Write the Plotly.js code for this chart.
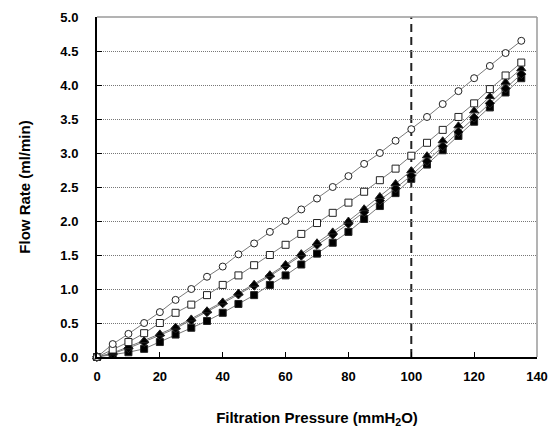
<!DOCTYPE html>
<html>
<head>
<meta charset="utf-8">
<script src="https://cdn.plot.ly/plotly-3.0.1.min.js"></script>
<style>html,body{margin:0;padding:0;background:#fff;}#chart{width:555px;height:432px;}</style>
</head>
<body>
<div id="chart"></div>
<script>
var pressure = [0,5,10,15,20,25,30,35,40,45,50,55,60,65,70,75,80,85,90,95,100,105,110,115,120,125,130,135];
var openCircle = [0,0.19,0.34,0.5,0.66,0.84,1.0,1.18,1.33,1.51,1.67,1.84,2.0,2.17,2.33,2.5,2.66,2.84,3.0,3.18,3.35,3.53,3.72,3.91,4.1,4.28,4.47,4.65];
var openSquare = [0,0.11,0.22,0.35,0.5,0.65,0.77,0.91,1.06,1.2,1.35,1.5,1.65,1.81,1.97,2.12,2.27,2.43,2.6,2.77,2.96,3.15,3.34,3.53,3.73,3.94,4.14,4.33];
var filledTriangle = [0,0.06,0.15,0.24,0.34,0.44,0.56,0.68,0.81,0.94,1.07,1.21,1.36,1.52,1.68,1.84,2.0,2.18,2.36,2.55,2.74,2.96,3.18,3.4,3.62,3.83,4.04,4.24];
var filledDiamond = [0,0.05,0.13,0.22,0.32,0.42,0.54,0.66,0.79,0.92,1.05,1.19,1.34,1.49,1.65,1.8,1.96,2.13,2.3,2.48,2.67,2.88,3.1,3.31,3.52,3.73,3.95,4.16];
var filledSquare = [0,0.03,0.07,0.12,0.22,0.33,0.43,0.53,0.65,0.78,0.91,1.06,1.2,1.36,1.52,1.68,1.84,2.03,2.22,2.41,2.62,2.83,3.04,3.25,3.46,3.67,3.89,4.1];
var xTicks = [0,20,40,60,80,100,120,140];
var yTicks = [0,0.5,1,1.5,2,2.5,3,3.5,4,4.5,5];
var refPressure = 100;

var lineStyle = {color:'#7a7a7a', width:1};
function series(y, sym, fill, size){
  return {x:pressure, y:y, type:'scatter', mode:'lines+markers', line:lineStyle,
    marker:{symbol:sym, size:size, color:fill, line:{color:'#222', width:1}}, showlegend:false, cliponaxis:false};
}
var data = [
  series(filledSquare,'square','#000',7),
  series(filledDiamond,'diamond','#000',7),
  series(filledTriangle,'triangle-up','#000',8),
  series(openSquare,'square','#fff',7),
  series(openCircle,'circle','#fff',7)
];
var font = {family:'"Liberation Sans", Arial, sans-serif', size:13, color:'#000'};
var layout = {
  width:555, height:432,
  margin:{l:97, r:18, t:17, b:75},
  paper_bgcolor:'#fff', plot_bgcolor:'#fff',
  font:font,
  xaxis:{range:[0,140], tickvals:xTicks, ticktext:xTicks.map(String), ticks:'inside', ticklen:5, tickcolor:'#000', tickwidth:1,
    showline:true, linecolor:'#000', linewidth:2, showgrid:false, zeroline:false, fixedrange:true,
    tickfont:{family:font.family, size:13, color:'#000', weight:'bold'}, ticklabelstandoff:6,
    title:{text:'Filtration Pressure (mmH<sub>2</sub>O)', font:{family:font.family, size:15, color:'#000', weight:'bold'}, standoff:30}},
  yaxis:{range:[0,5], tickvals:yTicks, ticktext:yTicks.map(function(v){return v.toFixed(1);}), ticks:'inside', ticklen:5, tickcolor:'#000', tickwidth:1,
    showline:true, linecolor:'#000', linewidth:2, showgrid:true, gridcolor:'#777', griddash:'1px,1px', gridwidth:1, zeroline:false, fixedrange:true,
    tickfont:{family:font.family, size:13, color:'#000', weight:'bold'}, ticklabelstandoff:14,
    title:{text:'Flow Rate (ml/min)', font:{family:font.family, size:15, color:'#000', weight:'bold'}, standoff:26}},
  shapes:[
    {type:'line', xref:'paper', yref:'paper', x0:0, x1:1, y0:1, y1:1, line:{color:'#9a9a9a', width:1.5}},
    {type:'line', xref:'paper', yref:'paper', x0:1, x1:1, y0:0, y1:1, line:{color:'#9a9a9a', width:1.5}},
    {type:'line', xref:'x', yref:'paper', x0:refPressure, x1:refPressure, y0:0, y1:1, line:{color:'#222', width:2, dash:'8px,5px'}, layer:'below'}
  ]
};
Plotly.newPlot('chart', data, layout, {displayModeBar:false, staticPlot:true});
</script>
</body>
</html>
